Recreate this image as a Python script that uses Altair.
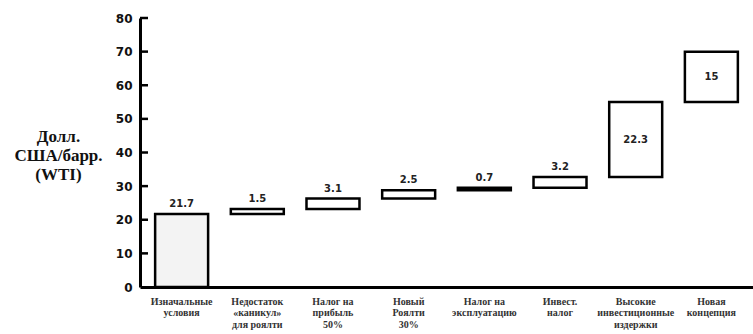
import altair as alt
import pandas as pd

categories = [
    "Изначальные|условия",
    "Недостаток|«каникул»|для роялти",
    "Налог на|прибыль|50%",
    "Новый|Роялти|30%",
    "Налог на|эксплуатацию",
    "Инвест.|налог",
    "Высокие|инвестиционные|издержки",
    "Новая|концепция",
]
values = [21.7, 1.5, 3.1, 2.5, 0.7, 3.2, 22.3, 15]
value_labels = ["21.7", "1.5", "3.1", "2.5", "0.7", "3.2", "22.3", "15"]
label_inside = [False, False, False, False, False, False, True, True]
fills = ["#f3f3f3", "white", "white", "white", "#555555", "white", "white", "white"]
y_ticks = [0, 10, 20, 30, 40, 50, 60, 70, 80]

starts, ends = [], []
total = 0.0
for v in values:
    starts.append(total)
    total += v
    ends.append(total)

df = pd.DataFrame({
    "cat": categories,
    "start": starts,
    "end": ends,
    "mid": [(s + e) / 2 for s, e in zip(starts, ends)],
    "label": value_labels,
    "inside": label_inside,
    "fill": fills,
})
ticks_df = pd.DataFrame({"t": y_ticks[1:]})

x_scale = alt.Scale(paddingInner=0.3, paddingOuter=0.2)
x_axis = alt.Axis(
    labelExpr="split(datum.label, '|')",
    labelAngle=0, labelFont="Liberation Serif", labelFontWeight="bold",
    labelFontSize=10, labelColor="#333333", labelLineHeight=11.5,
    labelBaseline="top", labelPadding=9, labelOverlap=False, labelBound=False,
    ticks=False, domainColor="black", domainWidth=3,
)
y_scale = alt.Scale(domain=[0, 80], nice=False, zero=True)
y_axis = alt.Axis(
    values=y_ticks, format="d", grid=False, ticks=False,
    labelFont="DejaVu Sans", labelFontWeight="bold", labelFontSize=12,
    labelColor="#111111", labelPadding=8, labelOverlap=False,
    domainColor="black", domainWidth=3,
    title=["Долл.", "США/барр.", "(WTI)"],
    titleFont="Liberation Serif", titleFontWeight="bold", titleFontSize=17,
    titleColor="#111111", titleAngle=0, titleAlign="center", titleBaseline="middle",
    titleLineHeight=19, titleX=-82, titleY=118,
)
TITLE = ["Долл.", "США/барр.", "(WTI)"]


def xe():
    return alt.X("cat:N", sort=None, title=None, scale=x_scale, axis=x_axis)


def ye(field):
    return alt.Y(field, scale=y_scale, axis=y_axis, title=TITLE)


bars = alt.Chart(df).mark_bar(stroke="black", strokeWidth=2.5).encode(
    x=xe(),
    y=ye("start:Q"),
    y2="end:Q",
    fill=alt.Fill("fill:N", scale=None),
)

text_above = alt.Chart(df).transform_filter("!datum.inside").mark_text(
    font="DejaVu Sans", fontWeight="bold", fontSize=10, baseline="bottom", dy=-5, color="#222222"
).encode(x=xe(), y=ye("end:Q"), text="label:N")

text_inside = alt.Chart(df).transform_filter("datum.inside").mark_text(
    font="DejaVu Sans", fontWeight="bold", fontSize=10, baseline="middle", color="#222222"
).encode(x=xe(), y=ye("mid:Q"), text="label:N")

tick_rules = alt.Chart(ticks_df).mark_rule(color="black", strokeWidth=2.5).encode(
    y=ye("t:Q"), x=alt.value(0), x2=alt.value(8)
)

chart = alt.layer(bars, tick_rules, text_above, text_inside).properties(
    width=613, height=269,
    autosize=alt.AutoSizeParams(type="none"),
    padding={"left": 140, "top": 18, "right": 0, "bottom": 47},
    background="white",
).configure_view(stroke=None)

chart.save("out.html", embed_options={"renderer": "svg", "actions": False})
